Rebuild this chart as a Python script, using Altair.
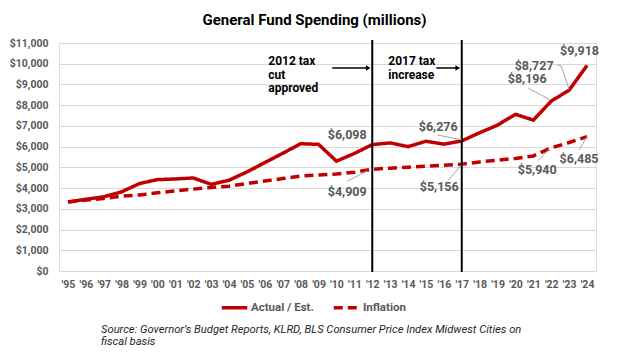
import altair as alt
import pandas as pd

years = list(range(1995, 2025))
actual = [3330, 3460, 3580, 3820, 4220, 4410, 4440, 4490, 4180, 4380,
          4780, 5230, 5680, 6140, 6110, 5300, 5670, 6098, 6180, 6000,
          6260, 6120, 6276, 6670, 7040, 7560, 7280, 8196, 8727, 9918]
inflation = [3330, 3420, 3500, 3610, 3670, 3770, 3870, 3950, 4030, 4090,
             4220, 4340, 4460, 4580, 4630, 4680, 4760, 4909, 4960, 5010,
             5060, 5100, 5156, 5260, 5350, 5430, 5550, 5940, 6200, 6485]
series_names = ["Actual / Est.", "Inflation"]
y_ticks = list(range(0, 11001, 1000))
event_years = [2012, 2017]
event_texts = ["2012 tax\ncut\napproved", "2017 tax\nincrease"]
title_text = "General Fund Spending (millions)"
source_text = "Source: Governor\u2019s Budget Reports, KLRD, BLS Consumer Price Index Midwest Cities on\nfiscal basis"

df = pd.DataFrame({
    "year": years * 2,
    "series": [series_names[0]] * len(years) + [series_names[1]] * len(years),
    "value": actual + inflation,
})
ev = pd.DataFrame({"year": event_years, "text": event_texts})

W, H = 537, 228
RED = "#c00000"
GRAY = "#595959"
FONT = "Roboto"

xscale = alt.Scale(domain=[1994.5, 2024.5], nice=False, zero=False)
yscale = alt.Scale(domain=[0, 11000], nice=False)

x_axis = alt.Axis(values=years, labelExpr="\"'\" + substring(toString(datum.value), 2)",
                  grid=False, ticks=False, tickSize=0, domain=False, title=None,
                  labelPadding=8, labelFontSize=10.5, labelFont=FONT, labelFontWeight="bold",
                  labelColor=GRAY, labelFlush=False, labelOverlap=False, labelSeparation=0)
y_axis = alt.Axis(values=y_ticks, format="$,.0f", grid=True, gridColor="#d9d9d9",
                  gridWidth=1, ticks=False, tickSize=0, domain=False, title=None,
                  labelPadding=11, labelFontSize=10.5, labelFont=FONT,
                  labelFontWeight="bold", labelColor=GRAY, labelOverlap=False, labelSeparation=0)
X = alt.X("year:Q", scale=xscale, axis=x_axis)
Y = alt.Y("value:Q", scale=yscale, axis=y_axis)

legend = alt.Legend(title=None, orient="none", direction="horizontal",
                    legendX=161, legendY=250, symbolType="stroke",
                    symbolStrokeWidth=3.5, symbolSize=650,
                    labelFont=FONT, labelFontSize=11.5, labelFontWeight="bold",
                    labelColor=GRAY, labelOffset=2, columnPadding=12)

base = alt.Chart(df)

lines = base.mark_line(strokeWidth=3.5).encode(
    x=X, y=Y,
    color=alt.Color("series:N", scale=alt.Scale(domain=series_names, range=[RED, RED]), legend=legend),
    strokeDash=alt.StrokeDash("series:N", scale=alt.Scale(domain=series_names, range=[[1, 0], [9, 5]]),
                              legend=legend),
)

evbase = alt.Chart(ev)
vrules = evbase.mark_rule(color="black", strokeWidth=2).encode(
    x=X, y=alt.value(-3), y2=alt.value(H + 1))

ev_label_style = {2012: dict(dx=-104), 2017: dict(dx=-73.5)}
ev_arrow_style = {2012: -40, 2017: -25.5}
ev_layers = []
for yr in event_years:
    sub = evbase.transform_filter(alt.datum.year == yr)
    ev_layers.append(sub.mark_text(align="left", baseline="top", font=FONT, fontSize=12,
                                   fontWeight="bold", color="black", lineBreak="\n",
                                   lineHeight=13.5, dx=ev_label_style[yr]["dx"]).encode(
        x=X, y=alt.value(13), text="text:N"))
    ev_layers.append(sub.mark_rule(color="black", strokeWidth=1.5,
                                   xOffset=ev_arrow_style[yr], x2Offset=-5).encode(
        x=X, x2="year:Q", y=alt.value(25)))
    ev_layers.append(sub.mark_point(shape="triangle-right", filled=True, color="black",
                                    size=28, opacity=1, xOffset=-4).encode(
        x=X, y=alt.value(25)))

# data labels: (series, year, dx, dy, leader segments relative to point)
label_specs = [
    (series_names[0], 2012, -25, -9.5, []),
    (series_names[1], 2012, -25, 22.5, [(-24.8, 11.8, -4.8, 1.5)]),
    (series_names[0], 2017, -23.5, -13.7, [(-24.5, -6, 0, -1)]),
    (series_names[1], 2017, -22.5, 23, [(-13.5, 16, -0.5, 1)]),
    (series_names[0], 2022, -24, -22, [(-23, -13, -1, -1.3)]),
    (series_names[0], 2023, -35, -24.5, [(-12.3, -25.3, -8, -24.3), (-8, -24.3, 0, -0.5)]),
    (series_names[0], 2024, -7.5, -14.7, []),
    (series_names[1], 2022, -14, 22, [(-13, 12.8, -2, 1)]),
    (series_names[1], 2024, -8, 22.5, [(-8, 13.4, 0, 0)]),
]
lab_layers = []
for s, yr, dx, dy, segs in label_specs:
    sub = base.transform_filter((alt.datum.series == s) & (alt.datum.year == yr))
    for (sx, sy, ex, ey) in segs:
        lab_layers.append(sub.mark_rule(color="#a6a6a6", strokeWidth=1,
                                        xOffset=sx, yOffset=sy, x2Offset=ex, y2Offset=ey).encode(
            x=X, y=Y, x2="year:Q", y2="value:Q"))
    lab_layers.append(sub.mark_text(dx=dx, dy=dy, align="center", baseline="middle",
                                    font=FONT, fontSize=12.5, fontWeight="bold", color=GRAY).encode(
        x=X, y=Y, text=alt.Text("value:Q", format="$,.0f")))

source = alt.Chart(pd.DataFrame({"t": [source_text]})).mark_text(
    align="left", baseline="middle", font=FONT, fontSize=11.2, fontStyle="italic",
    color="#262626", lineBreak="\n", lineHeight=12).encode(
    x=alt.value(42), y=alt.value(287), text="t:N")

chart = alt.layer(lines, vrules, *ev_layers, *lab_layers, source).properties(
    width=W, height=H,
    title=alt.TitleParams(title_text, font=FONT, fontSize=15, fontWeight="bold", color="black",
                          anchor="middle", dx=-13, offset=10),
    autosize=alt.AutoSizeParams(type="none"),
    padding={"left": 59, "top": 43, "right": 28, "bottom": 83},
).configure_view(stroke=None).configure_axis(labelOverlap=False).configure(background="white")

chart.save("out.html", embed_options={"renderer": "svg", "actions": False})
